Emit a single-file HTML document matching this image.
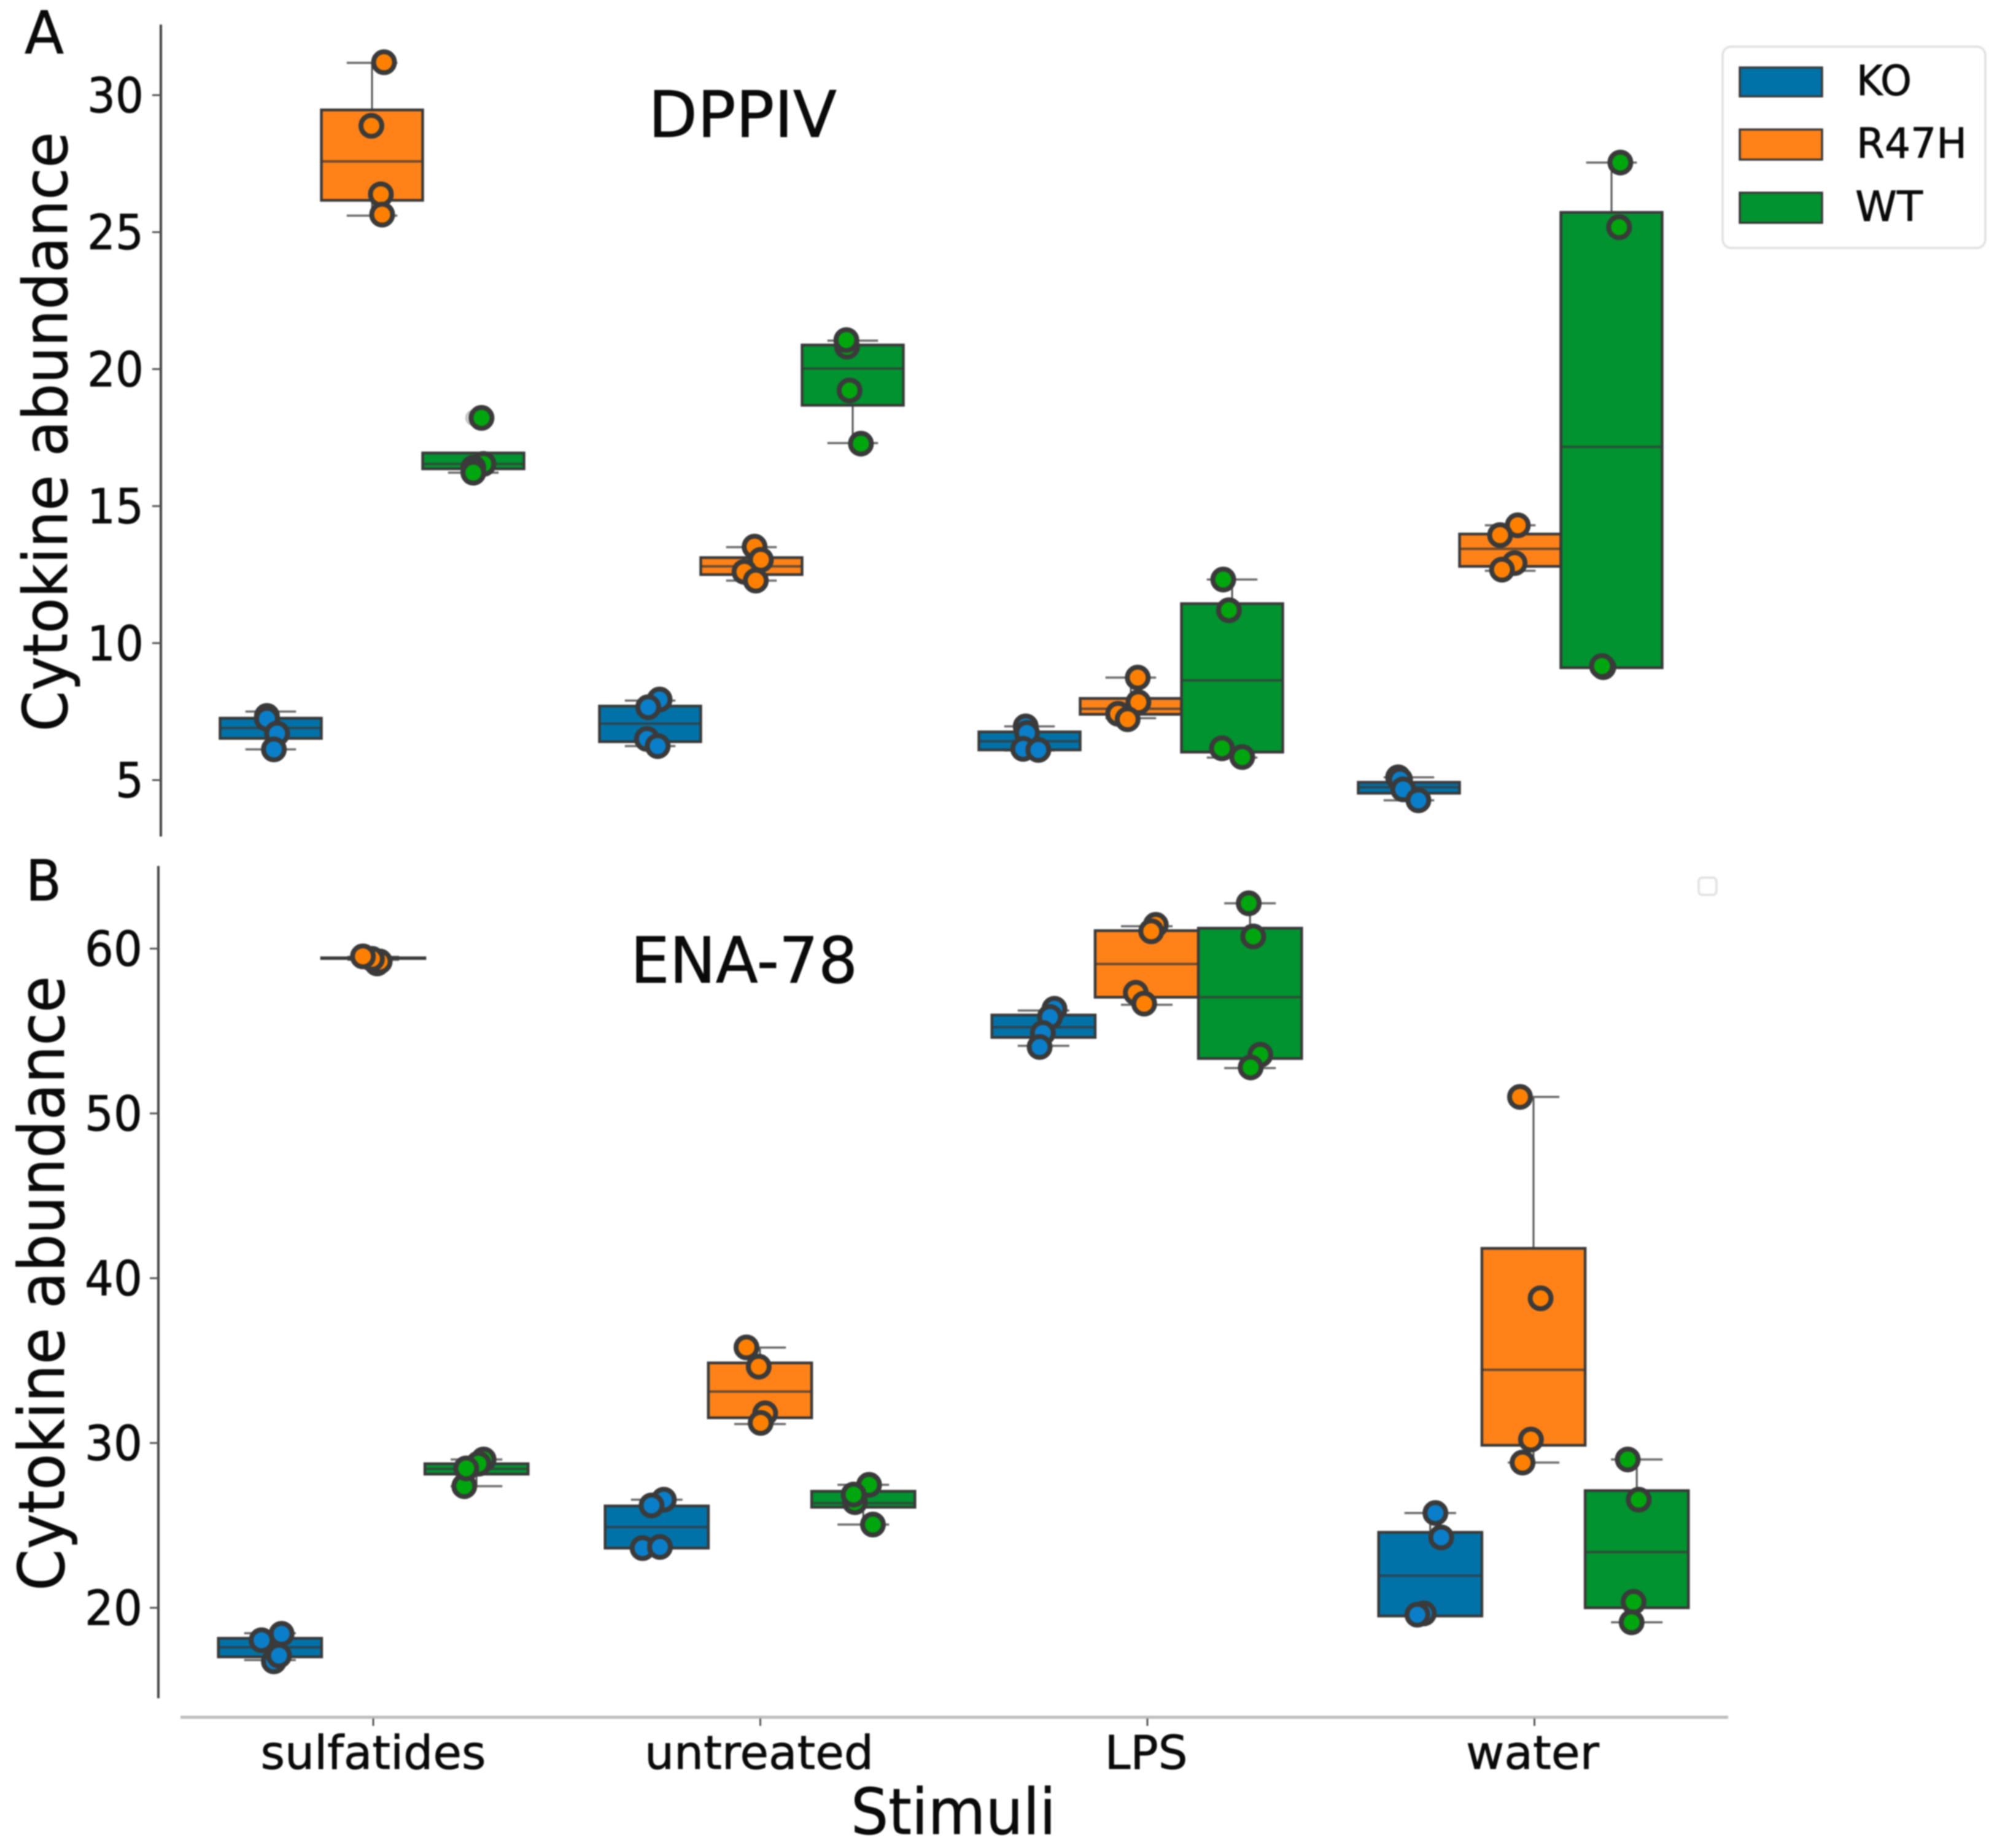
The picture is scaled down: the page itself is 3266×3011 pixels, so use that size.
<!DOCTYPE html>
<html lang="en">
<head>
<meta charset="utf-8">
<title>Cytokine abundance by stimulus</title>
<style>
html,body{margin:0;padding:0;background:#fff;}
svg{display:block;filter:blur(1.1px);}
text{font-family:"DejaVu Sans","Liberation Sans",sans-serif;fill:#0a0a0a;stroke:#0a0a0a;stroke-width:0.8px;}
</style>
</head>
<body>
<svg id="chart" xmlns="http://www.w3.org/2000/svg" width="3266" height="3011" viewBox="0 0 3266 3011">
  <rect x="0" y="0" width="3266" height="3011" fill="#ffffff"/>
  <text x="40" y="87" font-size="96" textLength="64" lengthAdjust="spacingAndGlyphs">A</text>
  <text x="42" y="1467" font-size="92" textLength="58" lengthAdjust="spacingAndGlyphs">B</text>
  <text x="1056" y="223" font-size="104" textLength="307" lengthAdjust="spacingAndGlyphs">DPPIV</text>
  <text x="1027" y="1601" font-size="103" textLength="370" lengthAdjust="spacingAndGlyphs">ENA-78</text>
  <text transform="translate(109 1192) rotate(-90)" font-size="100" textLength="977" lengthAdjust="spacingAndGlyphs">Cytokine abundance</text>
  <text transform="translate(104 2592) rotate(-90)" font-size="103" textLength="1002" lengthAdjust="spacingAndGlyphs">Cytokine abundance</text>
  <text x="1386" y="2988" font-size="103" textLength="334" lengthAdjust="spacingAndGlyphs">Stimuli</text>

  <g>
    <rect x="2806" y="76" width="428" height="328" rx="14" fill="#ffffff" stroke="#e4e4e4" stroke-width="4"/>
    <rect x="2834" y="110" width="134" height="47" fill="#0072a8" stroke="#3a3a3a" stroke-width="3.5"/>
    <text x="3024" y="155" font-size="68" textLength="90" lengthAdjust="spacingAndGlyphs">KO</text>
    <rect x="2834" y="211" width="134" height="49" fill="#ff8218" stroke="#3a3a3a" stroke-width="3.5"/>
    <text x="3024" y="257" font-size="68" textLength="180" lengthAdjust="spacingAndGlyphs">R47H</text>
    <rect x="2834" y="314" width="134" height="49" fill="#00932f" stroke="#3a3a3a" stroke-width="3.5"/>
    <text x="3022" y="360" font-size="68" textLength="110" lengthAdjust="spacingAndGlyphs">WT</text>
  </g>
  <rect x="2767" y="1430" width="29" height="28" rx="6" fill="#ffffff" stroke="#e4e4e4" stroke-width="4"/>
</svg>

<script>
// Shared categories and hues
const categories = ["sulfatides", "untreated", "LPS", "water"];
const genotypes = ["KO", "R47H", "WT"];

// Panel A: DPPIV. Box arrays are [category][KO, R47H, WT]
const dppivTicks = [5, 10, 15, 20, 25, 30];
const dppivQ3 = [[7.26, 29.46, 16.94], [7.7, 13.12, 20.88], [6.76, 7.98, 11.44], [4.92, 13.98, 25.72]];
const dppivMedian = [[6.9, 27.58, 16.54], [7.06, 12.8, 20.02], [6.42, 7.6, 8.64], [4.74, 13.44, 17.16]];
const dppivQ1 = [[6.52, 26.16, 16.36], [6.4, 12.5, 18.68], [6.1, 7.4, 6.02], [4.52, 12.8, 9.1]];
const dppivWhiskerHigh = [[7.5, 31.18, 16.94], [7.9, 13.5, 21.04], [6.96, 8.74, 12.32], [5.1, 14.3, 27.54]];
const dppivWhiskerLow = [[6.12, 25.6, 16.22], [6.24, 12.28, 17.3], [6.08, 7.26, 5.82], [4.26, 12.64, 9.1]];
const dppivPoints = [
  [[7.34, 7.24, 6.7, 6.12], [31.2, 28.88, 26.38, 25.64], [18.22, 16.54, 16.4, 16.22]],
  [[7.94, 7.66, 6.5, 6.24], [13.52, 13.04, 12.6, 12.28], [20.82, 21.06, 19.22, 17.28]],
  [[6.96, 6.72, 6.14, 6.1], [8.74, 7.84, 7.42, 7.22], [12.32, 11.2, 6.16, 5.84]],
  [[5.1, 5.02, 4.66, 4.26], [14.3, 13.94, 12.92, 12.68], [27.54, 25.18, 9.12, 9.16]]
];
// Strip jitter, in 1/600ths of a category band
const dppivJitter = [
  [[-6, -6, 10, 5], [19, -1, 14, 16], [13, 16, 0, 0]],
  [[15, -3, -5, 12], [5, 15, -11, 7], [-9, -10, -5, 13]],
  [[-6, -4, -10, 14], [11, 12, -20, -5], [-14, -5, -16, 16]],
  [[-17, -14, -9, 15], [12, -16, 7, -13], [14, 12, -13, -15]]
];
// Box-plot fliers, in [category][KO, R47H, WT]
const dppivFliers = [[[], [], [18.22]], [[], [], []], [[], [], []], [[], [], []]];

// Panel B: ENA-78
const enaTicks = [20, 30, 40, 50, 60];
const enaQ3 = [[18.15, 59.44, 28.74], [26.18, 34.86, 27.07], [55.97, 61.09, 61.24], [24.58, 41.81, 27.11]];
const enaMedian = [[17.6, 59.42, 28.43], [24.9, 33.12, 26.35], [55.23, 59.07, 57.05], [21.95, 34.44, 23.38]];
const enaQ1 = [[17.02, 59.4, 28.11], [23.62, 31.53, 26.1], [54.61, 57.05, 53.33], [19.5, 29.86, 20.0]];
const enaWhiskerHigh = [[18.46, 59.5, 29.0], [26.56, 35.79, 27.46], [56.24, 61.36, 62.75], [25.75, 51.0, 29.0]];
const enaWhiskerLow = [[16.83, 59.32, 27.38], [23.62, 31.15, 25.05], [54.1, 56.59, 52.75], [19.54, 28.81, 19.12]];
const enaPoints = [
  [[18.42, 18.03, 16.75, 17.1], [59.1, 59.22, 59.38, 59.53], [29.0, 28.74, 27.38, 28.46]],
  [[26.56, 26.21, 23.62, 23.69], [35.8, 34.63, 31.8, 31.22], [27.46, 26.41, 26.87, 25.05]],
  [[56.35, 55.85, 54.88, 54.03], [61.44, 61.05, 57.32, 56.66], [62.75, 60.74, 53.56, 52.79]],
  [[25.75, 24.27, 19.66, 19.58], [51.0, 38.78, 30.21, 28.81], [29.0, 26.56, 20.36, 19.12]]
];
const enaJitter = [
  [[18, -13, 6, 14], [6, 10, -2, -16], [11, 3, -19, -16]],
  [[11, -8, -22, 5], [-21, -2, 8, 1], [9, -13, -15, 15]],
  [[17, 10, -1, -6], [14, 7, -17, -4], [-2, 5, 16, 1]],
  [[8, 17, -10, -20], [-21, 11, -4, -17], [-14, 3, -5, -8]]
];
const enaFliers = [[[], [], []], [[], [], []], [[], [], []], [[], [], []]];

const boxFills = ["#0072a8", "#ff8218", "#00932f"];
const pointFills = ["#0a7ec8", "#ff8000", "#00a60e"];
const lineColor = "#3a3a3a";
const jitterUnit = 1 / 600;
const dodgeStep = 0.267;
const boxBand = 0.267;

const svg = document.getElementById("chart");
const NS = "http://www.w3.org/2000/svg";

function make(tag, attrs, parent) {
  const node = document.createElementNS(NS, tag);
  Object.keys(attrs).forEach(function (k) { node.setAttribute(k, attrs[k]); });
  (parent || svg).appendChild(node);
  return node;
}

function linear(d0, d1, r0, r1) {
  return function (v) { return r0 + (v - d0) * (r1 - r0) / (d1 - d0); };
}

function drawPanel(key, cfg) {
  const x = cfg.x, y = cfg.y;
  const panel = make("g", {});
  
  

  const spine = make("line", { x1: cfg.spineX, x2: cfg.spineX, y1: cfg.spineTop, y2: cfg.spineBottom, stroke: "#444", "stroke-width": 4 }, panel);
  
  

  cfg.ticks.forEach(function (t) {
    const tick = make("line", { x1: cfg.spineX - 14, x2: cfg.spineX, y1: y(t), y2: y(t), stroke: "#555", "stroke-width": 3 }, panel);
    
    
    const s = String(t);
    const label = make("text", { x: cfg.labelRight, y: y(t) + 28, "text-anchor": "end", "font-size": 78, textLength: s.length * cfg.digitWidth, lengthAdjust: "spacingAndGlyphs" }, panel);
    label.textContent = s;
    
    
  });

  categories.forEach(function (cat, c) {
    const boxes = make("g", {}, panel);
    
    

    genotypes.forEach(function (g, h) {
      const cx = x(c + (h - 1) * dodgeStep);
      const half = (x(boxBand) - x(0)) / 2;
      const id = key + "-" + cat + "-" + g.toLowerCase();

      const wh = make("line", { x1: cx, x2: cx, y1: y(cfg.hi[c][h]), y2: y(cfg.lo[c][h]), stroke: "#555", "stroke-width": 3 }, boxes);
      
      

      const capHi = make("line", { x1: cx - half / 2, x2: cx + half / 2, y1: y(cfg.hi[c][h]), y2: y(cfg.hi[c][h]), stroke: "#6a6a6a", "stroke-width": 3.5 }, boxes);
      
      

      const capLo = make("line", { x1: cx - half / 2, x2: cx + half / 2, y1: y(cfg.lo[c][h]), y2: y(cfg.lo[c][h]), stroke: "#6a6a6a", "stroke-width": 3.5 }, boxes);
      
      

      const box = make("rect", { x: cx - half, width: half * 2, y: y(cfg.q3[c][h]), height: y(cfg.q1[c][h]) - y(cfg.q3[c][h]), fill: boxFills[h], stroke: lineColor, "stroke-width": 4.5 }, boxes);
      
      

      const med = make("line", { x1: cx - half, x2: cx + half, y1: y(cfg.med[c][h]), y2: y(cfg.med[c][h]), stroke: lineColor, "stroke-width": 4, "stroke-opacity": 0.75 }, boxes);
      
      

      cfg.fliers[c][h].forEach(function (v, i) {
        const flier = make("circle", { cx: cx, cy: y(v), r: 12, fill: "#d0d0d0", stroke: "#bbbbbb", "stroke-width": 2 }, boxes);
        
        
      });
    });

    genotypes.forEach(function (g, h) {
      const id = key + "-" + cat + "-" + g.toLowerCase();
      cfg.points[c][h].forEach(function (v, i) {
        const px = x(c + (h - 1) * dodgeStep + cfg.jitter[c][h][i] * jitterUnit);
        const dot = make("circle", { cx: px, cy: y(v), r: 17, fill: pointFills[h], stroke: "#3a3a3a", "stroke-width": 8 }, boxes);
        
        
      });
    });
  });
}

drawPanel("dppiv", {
  x: linear(0, 1, 606, 1224),
  y: linear(30, 5, 155, 1271),
  ticks: dppivTicks,
  q1: dppivQ1, q3: dppivQ3, med: dppivMedian, hi: dppivWhiskerHigh, lo: dppivWhiskerLow,
  points: dppivPoints, jitter: dppivJitter, fliers: dppivFliers,
  spineX: 262, spineTop: 40, spineBottom: 1363, labelRight: 234, digitWidth: 46
});

drawPanel("ena78", {
  x: linear(0, 1, 608, 1238),
  y: linear(60, 20, 1545.6, 2619.6),
  ticks: enaTicks,
  q1: enaQ1, q3: enaQ3, med: enaMedian, hi: enaWhiskerHigh, lo: enaWhiskerLow,
  points: enaPoints, jitter: enaJitter, fliers: enaFliers,
  spineX: 258, spineTop: 1411, spineBottom: 2767, labelRight: 232, digitWidth: 47
});

// Shared x axis along the bottom panel
const xBottom = linear(0, 1, 608, 1238.5);
const xAxisLine = make("line", { x1: 294, x2: 2815, y1: 2798, y2: 2798, stroke: "#bdbdbd", "stroke-width": 5 });



const xLabelWidths = [367, 373, 135, 217];
const xLabelNudge = [0, -2, -2, -3];
categories.forEach(function (cat, c) {
  const tick = make("line", { x1: xBottom(c), x2: xBottom(c), y1: 2800, y2: 2812, stroke: "#555", "stroke-width": 3 });
  
  
  const label = make("text", { x: xBottom(c) + xLabelNudge[c], y: 2882, "text-anchor": "middle", "font-size": 76, textLength: xLabelWidths[c], lengthAdjust: "spacingAndGlyphs" });
  label.textContent = cat;
  
  
});
</script>
</body>
</html>
